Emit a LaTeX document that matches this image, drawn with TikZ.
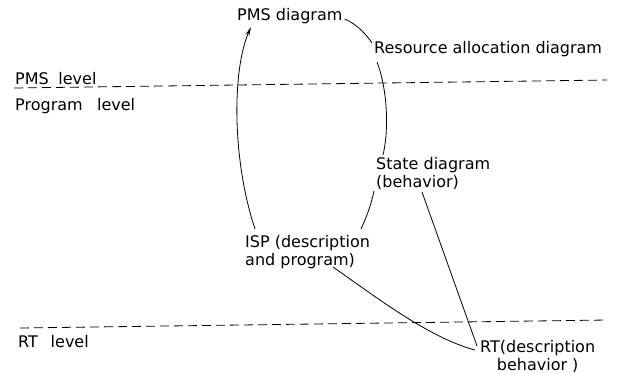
\documentclass[tikz,border=0pt]{standalone}
\usepackage{fontspec}
\setmainfont{DejaVu Sans}
\usetikzlibrary{arrows.meta,calc}
\tikzset{
    lbl/.style={inner sep=0pt, anchor=base west, align=left, font=\fontsize{16}{18}\selectfont},
    lvl/.style={lbl},
    link/.style={line width=0.8pt},
    arrow/.style={link, -{Stealth[length=9pt,width=4pt]}},
    levelline/.style={line width=0.8pt, dash pattern=on 9pt off 5pt}
}
\begin{document}
\begin{tikzpicture}[x=1pt,y=-1pt]
\useasboundingbox (0,0) rectangle (621,373);

% Level boundaries
\coordinate (pmsL) at (14,88);
\coordinate (pmsR) at (607,80);
\coordinate (rtL) at (20,328);
\coordinate (rtR) at (607,320);
\draw[levelline] (pmsL) -- (pmsR);
\draw[levelline] (rtL) -- (rtR);

% Level names
\node[lvl] (pmslvl) at (15,84) {PMS\hspace{0.6em}level};
\node[lvl] (proglvl) at (15,110) {Program\hspace{0.9em}level};
\node[lvl] (rtlvl) at (18,347) {RT\hspace{0.8em}level};

% Descriptions (base = last line)
\node[lbl] (pmsd) at (237,20) {PMS diagram};
\node[lbl] (resd) at (374,53) {Resource allocation diagram};
\node[lbl] (state) at (376,187) {State diagram\\(behavior)};
\node[lbl] (isp) at (245,265) {ISP (description\\ and program)};
\node[lbl, align=center] (rt) at (480,370) {RT(description\\behavior )};

% Links between descriptions
\draw[arrow] ($(isp.base west)+(10,-36)$) .. controls (232,160) and (232,70) .. ($(pmsd.base west)+(14,7)$);
\draw[link] ($(pmsd.base east)+(2,-1)$) .. controls (354,23) and (363,30) .. ($(resd.base west)+(-2,-10)$);
\draw[link] ($(resd.base west)+(3,9)$) .. controls (386,85) and (390,125) .. ($(state.base west)+(7,-32)$);
\draw[link] ($(state.base west)+(-2,4)$) .. controls (371,205) and (367,216) .. ($(isp.base west)+(116,-36)$);
\draw[link] ($(state.base west)+(46,5)$) -- ($(rt.base west)+(-3,-24)$);
\draw[link] ($(isp.base west)+(88,2)$) .. controls (380,300) and (430,338) .. ($(rt.base west)+(-5,-20)$);
\end{tikzpicture}
\end{document}
